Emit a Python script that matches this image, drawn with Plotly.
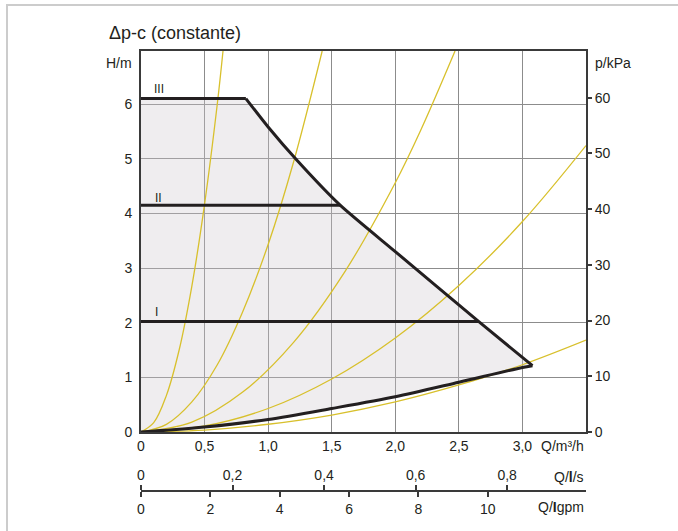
import plotly.graph_objects as go

# ---------------- data ----------------
q_ticks = [0, 0.5, 1.0, 1.5, 2.0, 2.5, 3.0]
q_ticktext = ["0", "0,5", "1,0", "1,5", "2,0", "2,5", "3,0"]
h_ticks = [0, 1, 2, 3, 4, 5, 6]
kpa_ticks = [0, 10, 20, 30, 40, 50, 60]
ls_ticks = [0, 0.2, 0.4, 0.6, 0.8]
ls_ticktext = ["0", "0,2", "0,4", "0,6", "0,8"]
gpm_ticks = [0, 2, 4, 6, 8, 10]

# constant-pressure speed levels
level_names = ["I", "II", "III"]
level_h = [2.02, 4.15, 6.10]
level_q_end = [2.657, 1.566, 0.825]

# max curve (right boundary)
max_q = [0.825, 1.0, 1.225, 1.566, 2.0, 2.657, 3.079]
max_h = [6.10, 5.58, 4.975, 4.15, 3.30, 2.02, 1.213]

# min curve (lower boundary)
min_q = [0, 0.25, 0.5, 1.0, 1.5, 2.0, 2.5, 3.0, 3.079]
min_h = [0, 0.04, 0.09, 0.23, 0.43, 0.645, 0.91, 1.18, 1.213]

# system curves (yellow)
sys1_q = [0, 0.1, 0.2, 0.3, 0.4, 0.5, 0.6, 0.645]
sys1_h = [0, 0.17, 0.67, 1.50, 2.67, 4.17, 6.00, 6.97]
sys2_q = [0, 0.2, 0.4, 0.6, 0.8, 1.0, 1.2, 1.425]
sys2_h = [0, 0.14, 0.55, 1.23, 2.20, 3.43, 4.94, 6.97]
sys3_q = [0, 0.4, 0.8, 1.2, 1.6, 2.0, 2.2, 2.47]
sys3_h = [0, 0.18, 0.73, 1.64, 2.92, 4.56, 5.52, 6.97]
sys4_q = [0, 0.5, 1.0, 1.5, 2.0, 2.5, 3.0, 3.5]
sys4_h = [0, 0.11, 0.43, 0.97, 1.72, 2.68, 3.85, 5.24]
sys5_q = [0, 0.5, 1.0, 1.5, 2.0, 2.5, 3.0, 3.5]
sys5_h = [0, 0.036, 0.142, 0.31, 0.55, 0.86, 1.23, 1.68]

# ---------------- constants ----------------
X_MAX = 3.5
Y_MAX = 6.97
KPA_PER_M = 9.81
M3H_PER_LS = 3.6
M3H_PER_IGPM = 0.2727654

W, H = 678, 531
ML, MR, MT, MB = 141, 92, 51, 40
PLOT_W = W - ML - MR
PLOT_H = H - MT - MB
MAIN_BOTTOM_PX = 432
y_dom0 = (H - MB - MAIN_BOTTOM_PX) / PLOT_H


def px_x(px):
    return (px - ML) / PLOT_W


def px_y(py):
    return (H - MB - py) / PLOT_H


BLACK = "#231f20"
YELLOW = "#d8c02c"
GRID = "#8c8c8c"
AXIS = "#3a3a3a"
FONT = "Liberation Sans, Arial, sans-serif"
TXT = "#231f20"

fig = go.Figure()

# shaded operating area
poly_q = [0] + max_q + min_q[::-1]
poly_h = [level_h[2]] + max_h + min_h[::-1]
fig.add_trace(go.Scatter(
    x=poly_q, y=poly_h, mode="lines", fill="toself",
    fillcolor="rgba(205,198,205,0.32)", line=dict(width=0),
    hoverinfo="skip", showlegend=False))

# system curves
for qs, hs in [(sys1_q, sys1_h), (sys2_q, sys2_h), (sys3_q, sys3_h),
               (sys4_q, sys4_h), (sys5_q, sys5_h)]:
    fig.add_trace(go.Scatter(
        x=qs, y=hs, mode="lines", line=dict(color=YELLOW, width=1.3, shape="spline"),
        hoverinfo="skip", showlegend=False, cliponaxis=True))

# level lines
for name, hv, qe in zip(level_names, level_h, level_q_end):
    fig.add_trace(go.Scatter(
        x=[0, qe], y=[hv, hv], mode="lines", line=dict(color=BLACK, width=3),
        hoverinfo="skip", showlegend=False))

# max and min curves
fig.add_trace(go.Scatter(
    x=max_q, y=max_h, mode="lines", line=dict(color=BLACK, width=3, shape="spline", smoothing=0.6),
    hoverinfo="skip", showlegend=False))
fig.add_trace(go.Scatter(
    x=min_q, y=min_h, mode="lines", line=dict(color=BLACK, width=3, shape="spline", smoothing=0.8),
    hoverinfo="skip", showlegend=False))

# dummy traces to activate secondary axes
fig.add_trace(go.Scatter(x=[None], y=[None], xaxis="x", yaxis="y2", showlegend=False, hoverinfo="skip"))
fig.add_trace(go.Scatter(x=[None], y=[None], xaxis="x2", yaxis="y", showlegend=False, hoverinfo="skip"))
fig.add_trace(go.Scatter(x=[None], y=[None], xaxis="x3", yaxis="y", showlegend=False, hoverinfo="skip"))

tickfont = dict(family=FONT, size=14, color=TXT)

annotations = [
    dict(text="Δp-c (constante)", x=px_x(107), y=px_y(33), xref="paper", yref="paper",
         xanchor="left", yanchor="middle", showarrow=False,
         font=dict(family=FONT, size=18, color=TXT)),
    dict(text="H/m", x=px_x(134), y=px_y(63), xref="paper", yref="paper",
         xanchor="right", yanchor="middle", showarrow=False, font=tickfont),
    dict(text="p/kPa", x=px_x(593), y=px_y(63), xref="paper", yref="paper",
         xanchor="left", yanchor="middle", showarrow=False, font=tickfont),
    dict(text="Q/m³/h", x=1.0, y=px_y(446), xref="paper", yref="paper",
         xanchor="right", yanchor="middle", showarrow=False, font=tickfont),
    dict(text="Q/<b>l</b>/s", x=1.0, y=px_y(477), xref="paper", yref="paper",
         xanchor="right", yanchor="middle", showarrow=False, font=tickfont),
    dict(text="Q/<b>I</b>gpm", x=1.0, y=px_y(507), xref="paper", yref="paper",
         xanchor="right", yanchor="middle", showarrow=False, font=tickfont),
]
label_pos = [(0.12, 2.20), (0.135, 4.29), (0.145, 6.28)]
for name, (lq, lh) in zip(level_names, label_pos):
    annotations.append(dict(text=name, x=lq, y=lh, xref="x", yref="y",
                            xanchor="center", yanchor="middle", showarrow=False,
                            font=dict(family=FONT, size=12, color=TXT)))

fig.update_layout(
    width=W, height=H,
    margin=dict(l=ML, r=MR, t=MT, b=MB, pad=0),
    paper_bgcolor="white", plot_bgcolor="white",
    showlegend=False,
    font=dict(family=FONT, size=14, color=TXT),
    xaxis=dict(range=[0, X_MAX], tickvals=q_ticks, ticktext=q_ticktext,
               showgrid=True, gridcolor=GRID, gridwidth=1, zeroline=False,
               showline=True, linecolor=AXIS, linewidth=2, mirror=True,
               ticks="", tickfont=tickfont, anchor="y", domain=[0, 1]),
    yaxis=dict(range=[0, Y_MAX], tickvals=h_ticks, domain=[y_dom0, 1],
               showgrid=True, gridcolor=GRID, gridwidth=1, zeroline=False,
               showline=True, linecolor=AXIS, linewidth=2, mirror=True,
               ticks="outside", ticklen=4, tickcolor="rgba(0,0,0,0)",
               tickfont=tickfont, anchor="x"),
    yaxis2=dict(range=[0, Y_MAX * KPA_PER_M], tickvals=kpa_ticks, overlaying="y",
                side="right", anchor="x", showgrid=False, zeroline=False,
                showline=False, ticks="outside", ticklen=5, tickwidth=1.5,
                tickcolor=AXIS, tickfont=tickfont),
    xaxis2=dict(range=[0, X_MAX / M3H_PER_LS], tickvals=ls_ticks, ticktext=ls_ticktext,
                overlaying="x", anchor="free", position=0, side="top",
                showgrid=False, zeroline=False, showline=True, linecolor=AXIS,
                linewidth=1.5, ticks="outside", ticklen=5, tickwidth=1.5,
                tickcolor=AXIS, tickfont=tickfont),
    xaxis3=dict(range=[0, X_MAX / M3H_PER_IGPM], tickvals=gpm_ticks,
                overlaying="x", anchor="free", position=0, side="bottom",
                showgrid=False, zeroline=False, showline=True, linecolor=AXIS,
                linewidth=1.5, ticks="outside", ticklen=5, tickwidth=1.5,
                tickcolor=AXIS, tickfont=tickfont),
    annotations=annotations,
    shapes=[dict(type="rect", xref="paper", yref="paper",
                 x0=px_x(7), y0=-0.5, x1=1.5, y1=px_y(5),
                 line=dict(color="#cccccc", width=2), fillcolor="rgba(0,0,0,0)",
                 layer="below")],
)

fig.write_html(
    "out.html",
    config={"displayModeBar": False},
    post_script="document.body.style.margin='0';document.body.style.padding='0';",
)
